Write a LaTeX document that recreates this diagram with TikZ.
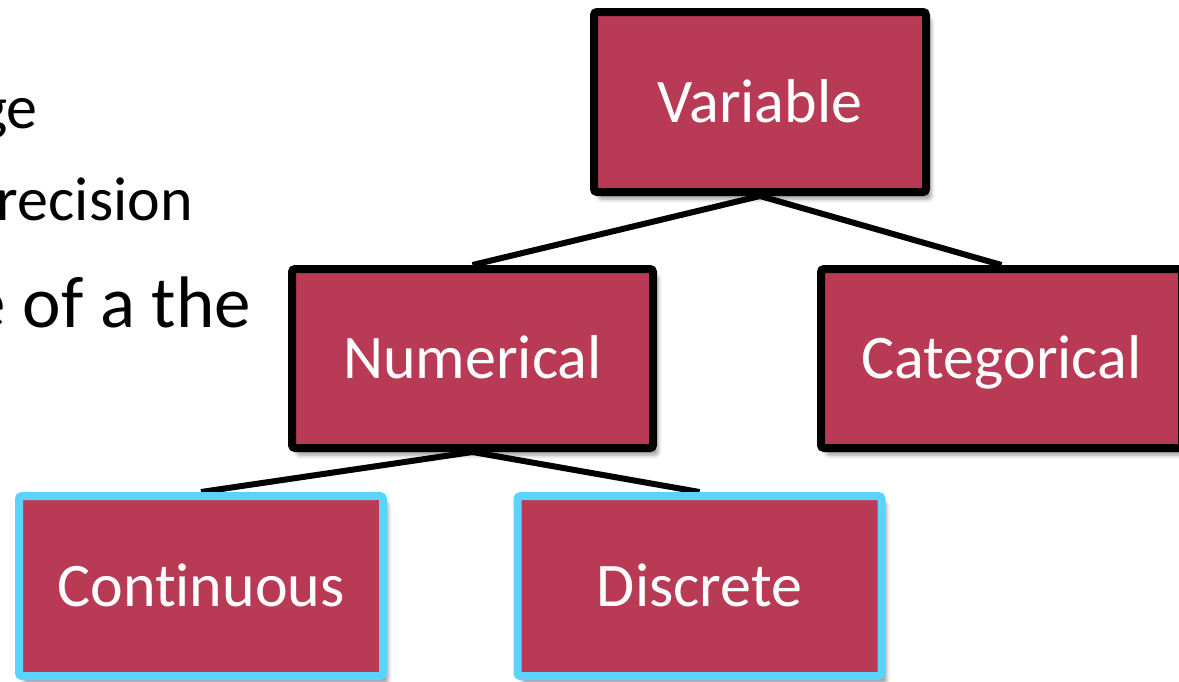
\documentclass[tikz,border=0pt]{standalone}
\usepackage{fontspec}
\setmainfont[Ligatures=CommonOff]{Carlito}
\usetikzlibrary{backgrounds,shadows.blur}
\definecolor{boxred}{RGB}{185,58,85}
\definecolor{leafblue}{RGB}{91,211,255}
\begin{document}
\begin{tikzpicture}[x=1pt,y=-1pt,
  box/.style={rectangle, rounded corners=3pt, fill=boxred, line width=8pt,
    text=white, font=\fontsize{62}{74}\selectfont, inner sep=0pt,
    text height=40pt, text depth=0pt,
    blur shadow={shadow xshift=5pt, shadow yshift=-7pt,
      shadow blur radius=4pt, shadow opacity=40}},
  inner/.style={box, draw=black},
  leaf/.style={box, draw=leafblue},
  link/.style={line width=6pt, black},
  bullet/.style={anchor=base east, inner sep=0pt, text=black}]
\clip (0,0) rectangle (1179,681);

% partially visible bullet text on the left
\node[bullet, font=\fontsize{62}{74}\selectfont] (b1) at (38,128) {ge};
\node[bullet, font=\fontsize{62}{74}\selectfont] (b2) at (193,220) {recision};
\node[bullet, font=\fontsize{73}{88}\selectfont] (b3) at (251,327) {e\kern1pt{} of a the};

% tree of variable types
\node[inner, minimum width=332pt, minimum height=180pt] (var) at (760,102) {Variable};
\node[inner, minimum width=361pt, minimum height=179pt] (num) at (472.5,358.5) {Numerical};
\node[inner, minimum width=361pt, minimum height=179pt] (cat) at (1001.5,358.5) {Categorical};
\node[leaf, minimum width=364pt, minimum height=180pt] (cont) at (201,586) {Continuous};
\node[leaf, minimum width=364pt, minimum height=180pt] (disc) at (699.5,586) {Discrete};

\begin{pgfonlayer}{background}
  \draw[link] (var.south) -- (num.north);
  \draw[link] (var.south) -- (cat.north);
  \draw[link] (num.south) -- (cont.north);
  \draw[link] (num.south) -- (disc.north);
\end{pgfonlayer}
\end{tikzpicture}
\end{document}
